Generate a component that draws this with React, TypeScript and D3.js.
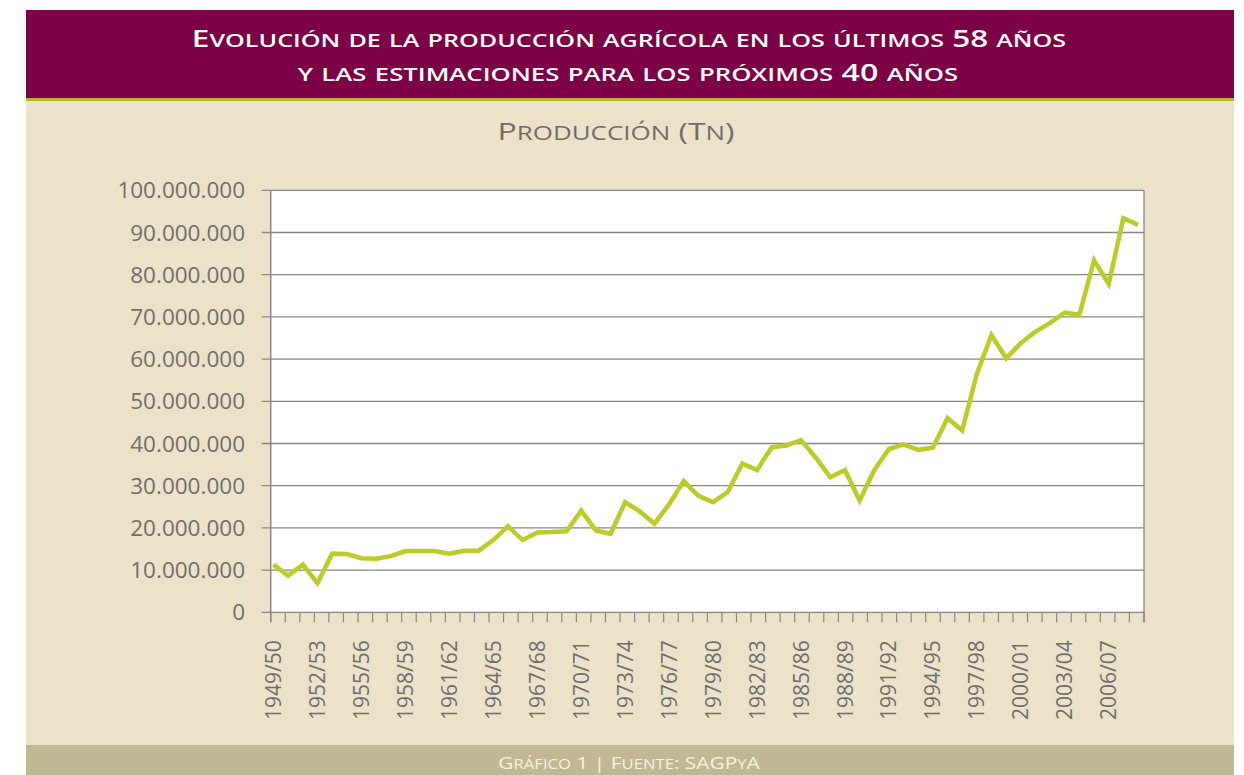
import React, { useEffect, useRef } from "react";
import * as d3 from "d3";

// campañas agrícolas (eje X)
const campaigns = [
  "1949/50", "1950/51", "1951/52", "1952/53", "1953/54", "1954/55", "1955/56", "1956/57", "1957/58", "1958/59",
  "1959/60", "1960/61", "1961/62", "1962/63", "1963/64", "1964/65", "1965/66", "1966/67", "1967/68", "1968/69",
  "1969/70", "1970/71", "1971/72", "1972/73", "1973/74", "1974/75", "1975/76", "1976/77", "1977/78", "1978/79",
  "1979/80", "1980/81", "1981/82", "1982/83", "1983/84", "1984/85", "1985/86", "1986/87", "1987/88", "1988/89",
  "1989/90", "1990/91", "1991/92", "1992/93", "1993/94", "1994/95", "1995/96", "1996/97", "1997/98", "1998/99",
  "1999/00", "2000/01", "2001/02", "2002/03", "2003/04", "2004/05", "2005/06", "2006/07", "2007/08", "2008/09",
];

// producción en millones de toneladas
const productionMillions = [
  11.3, 8.7, 11.3, 6.9, 13.9, 13.8, 12.8, 12.7, 13.3, 14.5,
  14.5, 14.5, 13.9, 14.6, 14.6, 17.1, 20.4, 17.1, 18.9, 19.0,
  19.2, 24.1, 19.4, 18.6, 26.1, 23.9, 21.0, 25.6, 31.1, 27.6,
  26.1, 28.5, 35.3, 33.7, 39.1, 39.5, 40.8, 36.7, 32.0, 33.7,
  26.5, 33.7, 38.7, 39.8, 38.5, 39.0, 46.0, 43.1, 56.5, 65.7,
  60.2, 63.8, 66.5, 68.6, 71.0, 70.5, 83.4, 77.8, 93.4, 91.8,
];

const yTicks = [0, 10, 20, 30, 40, 50, 60, 70, 80, 90, 100];
const yTickLabels = [
  "0", "10.000.000", "20.000.000", "30.000.000", "40.000.000", "50.000.000",
  "60.000.000", "70.000.000", "80.000.000", "90.000.000", "100.000.000",
];

const titleLines = [
  "Evolución de la producción agrícola en los últimos 58 años",
  "y las estimaciones para los próximos 40 años",
];
const subtitle = "Producción (Tn)";
const footer = "Gráfico 1 | Fuente: SAGPyA";

const font = "'Open Sans', 'DejaVu Sans', sans-serif";

// versalitas a mano: minúsculas -> mayúsculas más pequeñas, luego estirar al ancho pedido
function smallCapsText(parent, str, opts) {
  const { cx, y, size, ratio, fill, weight, width } = opts;
  const t = parent
    .append("text")
    .attr("text-anchor", "middle")
    .attr("fill", fill)
    .attr("font-family", font)
    .attr("font-weight", weight || 400);
  const runs = str.match(/(\p{Ll}+|[^\p{Ll}]+)/gu) || [];
  runs.forEach((r) => {
    const lower = /\p{Ll}/u.test(r);
    t.append("tspan")
      .attr("font-size", lower ? size * ratio : size)
      .text(lower ? r.toUpperCase() : r);
  });
  const w = t.node().getBBox().width || width;
  t.attr("transform", `translate(${cx},${y}) scale(${width / w},1)`);
  return t;
}

export default function App() {
  const svgRef = useRef<SVGSVGElement>(null);

  useEffect(() => {
    const svg = d3.select(svgRef.current);
    svg.selectAll("*").remove();

    const width = 1244;
    const height = 775;
    const textGray = "#6d6e70";
    const gridGray = "#878787";

    svg.attr("width", width).attr("height", height);

    // fondo y bandas
    svg.append("rect").attr("width", width).attr("height", height).attr("fill", "#fff");
    svg.append("rect").attr("x", 26).attr("y", 100).attr("width", 1208).attr("height", 645).attr("fill", "#ece2c7");
    svg.append("rect").attr("x", 26).attr("y", 10).attr("width", 1208).attr("height", 88).attr("fill", "#7b0046");
    svg.append("rect").attr("x", 26).attr("y", 98).attr("width", 1208).attr("height", 3).attr("fill", "#b8b82c");
    svg.append("rect").attr("x", 26).attr("y", 745).attr("width", 1208).attr("height", 30).attr("fill", "#c1b893");

    smallCapsText(svg, titleLines[0], {
      cx: 629, y: 47, size: 23.5, ratio: 0.8, fill: "#fff", weight: 600, width: 874,
    });
    smallCapsText(svg, titleLines[1], {
      cx: 628, y: 81, size: 23.5, ratio: 0.8, fill: "#fff", weight: 600, width: 660,
    });
    smallCapsText(svg, subtitle, {
      cx: 616, y: 139.5, size: 24.5, ratio: 0.81, fill: textGray, weight: 400, width: 237,
    });
    smallCapsText(svg, footer, {
      cx: 629, y: 769, size: 17, ratio: 0.8, fill: "#f6f1e4", weight: 400, width: 262,
    });

    // área del gráfico
    const plot = { left: 270.7, right: 1144, top: 190.3, bottom: 612.3 };

    const yScale = d3
      .scaleLinear()
      .domain([0, 100])
      .range([plot.bottom, plot.top]);

    const xBand = d3
      .scaleBand()
      .domain(campaigns)
      .range([plot.left, plot.right]);

    const xPoint = d3
      .scalePoint()
      .domain(campaigns)
      .range([273.5, 1138]);

    svg
      .append("rect")
      .attr("x", plot.left)
      .attr("y", plot.top)
      .attr("width", plot.right - plot.left)
      .attr("height", plot.bottom - plot.top)
      .attr("fill", "#fff");

    // líneas de la cuadrícula + marcas del eje Y
    svg
      .selectAll(".grid")
      .data(yTicks)
      .join("line")
      .attr("class", "grid")
      .attr("x1", plot.left - 9)
      .attr("x2", plot.right)
      .attr("y1", (d) => yScale(d))
      .attr("y2", (d) => yScale(d))
      .attr("stroke", gridGray)
      .attr("stroke-width", 1.3);

    svg
      .selectAll(".ylabel")
      .data(yTicks)
      .join("text")
      .attr("class", "ylabel")
      .attr("x", 245)
      .attr("y", (d) => yScale(d))
      .attr("dy", "0.36em")
      .attr("text-anchor", "end")
      .attr("fill", textGray)
      .attr("font-family", font)
      .attr("font-size", 22.5)
      .text((d, i) => yTickLabels[i]);

    // ejes
    svg
      .append("line")
      .attr("x1", plot.left)
      .attr("x2", plot.left)
      .attr("y1", plot.top)
      .attr("y2", plot.bottom + 10)
      .attr("stroke", gridGray)
      .attr("stroke-width", 1.5);
    svg
      .append("line")
      .attr("x1", plot.right)
      .attr("x2", plot.right)
      .attr("y1", plot.top)
      .attr("y2", plot.bottom + 10)
      .attr("stroke", gridGray)
      .attr("stroke-width", 1.3);

    const tickXs = campaigns.map((c) => xBand(c)).concat([plot.right]);
    svg
      .selectAll(".xtick")
      .data(tickXs)
      .join("line")
      .attr("class", "xtick")
      .attr("x1", (d) => d)
      .attr("x2", (d) => d)
      .attr("y1", plot.bottom)
      .attr("y2", plot.bottom + 10)
      .attr("stroke", gridGray)
      .attr("stroke-width", 1.2);

    svg
      .selectAll(".xlabel")
      .data(campaigns.filter((c, i) => i % 3 === 0))
      .join("text")
      .attr("class", "xlabel")
      .attr("transform", (d) => `translate(${xPoint(d)},720) rotate(-90)`)
      .attr("dy", "0.36em")
      .attr("text-anchor", "start")
      .attr("fill", textGray)
      .attr("font-family", font)
      .attr("font-size", 21)
      .text((d) => d);

    // serie
    const line = d3
      .line<number>()
      .x((d, i) => xPoint(campaigns[i]))
      .y((d) => yScale(d));

    svg
      .append("path")
      .datum(productionMillions)
      .attr("d", line)
      .attr("fill", "none")
      .attr("stroke", "#bdcb26")
      .attr("stroke-width", 4.5)
      .attr("stroke-linejoin", "miter");
  }, []);

  return (
    <svg
      ref={svgRef}
      style={{ position: "absolute", left: 0, top: 0, display: "block" }}
    ></svg>
  );
}
